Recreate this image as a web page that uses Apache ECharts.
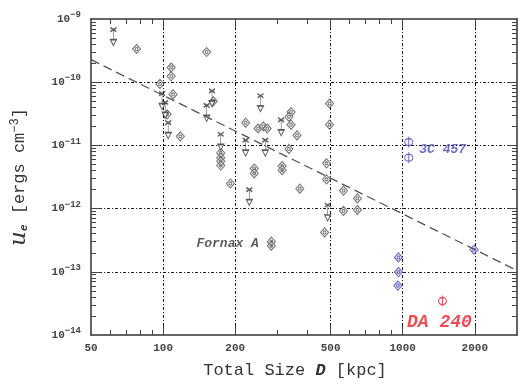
<!DOCTYPE html>
<html>
<head>
<meta charset="utf-8">
<script src="https://cdn.jsdelivr.net/npm/echarts@6/dist/echarts.min.js"></script>
<style>
  html, body { margin: 0; padding: 0; background: #fff; }
  #chart { width: 518px; height: 384px; }
</style>
</head>
<body>
<div id="chart"></div>
<script>
// axis ticks / labels
const xLabelValues = [50, 100, 200, 500, 1000, 2000];
const xMajorTicks = [100, 200, 500, 1000, 2000];
const xMinorTicks = [60, 70, 80, 90, 300, 400, 600, 700, 800, 900];
const yLabelValues = [1e-14, 1e-13, 1e-12, 1e-11, 1e-10, 1e-9];
const yMajorTicks = [1e-13, 1e-12, 1e-11, 1e-10];
const yMinorTicks = [];
for (let e = -14; e < -9; e++) {
  for (let m = 2; m <= 9; m++) yMinorTicks.push(m * Math.pow(10, e));
}

// data: [D kpc, u_e erg cm^-3]
const diamonds = [
  [77.5, 3.35e-10], [152, 3.0e-10], [108, 1.71e-10], [108, 1.24e-10],
  [97, 9.4e-11], [110, 6.4e-11], [104, 3.1e-11], [118, 1.39e-11],
  [162, 5.0e-11], [174, 7.6e-12], [174, 6.4e-12], [174, 5.6e-12],
  [174, 4.8e-12], [191, 2.5e-12], [221, 2.29e-11], [249, 1.85e-11],
  [262, 1.99e-11], [272, 1.85e-11], [342, 3.37e-11], [335, 2.83e-11],
  [342, 2.13e-11], [362, 1.44e-11], [335, 8.8e-12], [240, 4.3e-12],
  [240, 3.6e-12], [314, 4.7e-12], [314, 4.05e-12], [372, 2.07e-12],
  [495, 4.6e-11], [495, 2.13e-11], [481, 5.2e-12], [481, 2.9e-12],
  [566, 1.93e-12], [647, 1.45e-12], [566, 9.2e-13], [647, 9.5e-13],
  [472, 4.2e-13]
];
const fornaxA = [[283, 3.0e-13], [283, 2.58e-13]];
const upperLimits = [
  [62, 6.8e-10], [99, 6.6e-11], [102, 4.8e-11], [105, 2.29e-11],
  [160, 7.3e-11], [152, 4.3e-11], [174, 1.5e-11], [255, 6.1e-11],
  [311, 2.54e-11], [221, 1.21e-11], [267, 1.21e-11], [229, 2.0e-12],
  [486, 1.14e-12]
];
const src3C457 = [[1060, 1.13e-11], [1060, 6.4e-12]];
const blueDiamonds = [[960, 1.69e-13], [960, 9.9e-14], [955, 6.05e-14], [1986, 2.24e-13]];
const da240 = [[1465, 3.44e-14]];
const fitLine = [[50, 2.27e-10], [3000, 1.05e-13]];

const FONT = "Liberation Mono";
const INK = "#333";
const BLUE = "#4646b4";
const RED = "#e8202a";

const DIAMOND = "path://M5 0 L10 5 L5 10 L0 5 Z M5 3.3 A1.7 1.7 0 1 0 5 6.7 A1.7 1.7 0 1 0 5 3.3 Z";
const PHI = "path://M5 0 L5 14 M5 2.5 A4 4.5 0 1 1 5 11.5 A4 4.5 0 1 1 5 2.5 Z";
const LIMIT = "path://M1 0 L11 8 M11 0 L1 8 M6 4 L6 25 M1 24 L11 24 L6 36 Z";

const gridLineStyle = { color: "#111", width: 1, type: [3, 2, 1, 2] };

function xAxis(position, ticks, len, opts) {
  return Object.assign({
    type: "log", logBase: 10, min: 50, max: 3000, position,
    axisLine: { show: false },
    axisTick: { show: true, inside: true, length: len, customValues: ticks, lineStyle: { color: "#444", width: 1 } },
    axisLabel: { show: false },
    splitLine: { show: false }
  }, opts || {});
}
function yAxis(position, ticks, len, opts) {
  return Object.assign({
    type: "log", logBase: 10, min: 1e-14, max: 1e-9, position,
    axisLine: { show: false },
    axisTick: { show: true, inside: true, length: len, customValues: ticks, lineStyle: { color: "#444", width: 1 } },
    axisLabel: { show: false },
    splitLine: { show: false }
  }, opts || {});
}

const chart = echarts.init(document.getElementById("chart"), null, { renderer: "canvas" });
chart.setOption({
  animation: false,
  backgroundColor: "#fff",
  grid: { left: 88, right: 1, top: 19, bottom: 39, containLabel: false },
  xAxis: [
    xAxis("bottom", xMajorTicks, 9, {
      axisLine: { show: true, lineStyle: { color: INK, width: 1.5 } },
      axisLabel: {
        show: true, customValues: xLabelValues, margin: 8,
        fontFamily: FONT, fontWeight: "bold", fontSize: 11, color: "#444",
        formatter: (v) => String(Math.round(v))
      },
      splitLine: { show: true, lineStyle: gridLineStyle },
      name: "Total Size {i|D} [kpc]",
      nameLocation: "middle", nameGap: 27,
      nameTextStyle: {
        fontFamily: FONT, fontSize: 17, color: INK, padding: [0, 18, 0, 0],
        rich: { i: { fontFamily: FONT, fontSize: 17, fontStyle: "italic", fontWeight: "bold", color: INK } }
      }
    }),
    xAxis("bottom", xMinorTicks, 5),
    xAxis("top", xMajorTicks, 9, { axisLine: { show: true, lineStyle: { color: INK, width: 1.5 } } }),
    xAxis("top", xMinorTicks, 5)
  ],
  yAxis: [
    yAxis("left", yMajorTicks, 10, {
      axisLine: { show: true, lineStyle: { color: INK, width: 1.5 } },
      axisLabel: {
        show: true, customValues: yLabelValues, margin: 10,
        fontFamily: FONT, fontWeight: "bold", fontSize: 11, color: "#444",
        formatter: (v) => {
          const e = Math.round(Math.log10(v));
          return "10{s|" + (e < 0 ? "\u2212" : "") + Math.abs(e) + "}";
        },
        rich: { s: { fontFamily: FONT, fontWeight: "bold", fontSize: 9, color: "#444", padding: [0, 0, 8, 0] } }
      },
      splitLine: { show: true, lineStyle: gridLineStyle },
      name: "{u|u}{e|e} [ergs cm{s|\u22123}]",
      nameLocation: "middle", nameGap: 60,
      nameTextStyle: {
        fontFamily: FONT, fontSize: 17, color: INK,
        rich: {
          u: { fontFamily: "DejaVu Serif", fontStyle: "italic", fontSize: 23, color: INK },
          e: { fontFamily: FONT, fontStyle: "italic", fontWeight: "bold", fontSize: 11, color: INK, padding: [9, 0, 0, 0] },
          s: { fontFamily: FONT, fontSize: 12, color: INK, padding: [0, 0, 10, 0] }
        }
      }
    }),
    yAxis("left", yMinorTicks, 5),
    yAxis("right", yMajorTicks, 10, { axisLine: { show: true, lineStyle: { color: INK, width: 1.5 } } }),
    yAxis("right", yMinorTicks, 5)
  ],
  series: [
    {
      type: "line", data: fitLine, xAxisIndex: 0, yAxisIndex: 0,
      symbol: "none", silent: true,
      lineStyle: { color: "#555", width: 1.3, type: [9, 5] }
    },
    {
      type: "scatter", data: diamonds, xAxisIndex: 0, yAxisIndex: 0,
      symbol: DIAMOND, symbolSize: [8, 9],
      itemStyle: { color: "#fff", borderColor: "#555", borderWidth: 1.1 }
    },
    {
      type: "scatter", xAxisIndex: 0, yAxisIndex: 0,
      data: fornaxA.map((d, i) => i === 0 ? {
        value: d,
        label: {
          show: true, position: "left", distance: 8, offset: [0, 2], formatter: "Fornax A",
          fontFamily: FONT, fontStyle: "italic", fontWeight: "bold", fontSize: 13, color: INK
        }
      } : d),
      symbol: DIAMOND, symbolSize: [8, 9],
      itemStyle: { color: "#fff", borderColor: "#555", borderWidth: 1.1 }
    },
    {
      type: "scatter", data: upperLimits, xAxisIndex: 0, yAxisIndex: 0,
      symbol: LIMIT, symbolSize: [6, 18], symbolOffset: [0, 7],
      itemStyle: { color: "#fff", borderColor: "#333", borderWidth: 1 }
    },
    {
      type: "scatter", xAxisIndex: 0, yAxisIndex: 0,
      data: src3C457.map((d, i) => i === 0 ? {
        value: d,
        label: {
          show: true, position: "right", distance: 6, offset: [0, 8], formatter: "3C 457",
          fontFamily: FONT, fontStyle: "italic", fontWeight: "bold", fontSize: 13, color: BLUE
        }
      } : d),
      symbol: PHI, symbolSize: [8, 11],
      itemStyle: { color: "#fff", borderColor: BLUE, borderWidth: 1.2 }
    },
    {
      type: "scatter", data: blueDiamonds, xAxisIndex: 0, yAxisIndex: 0,
      symbol: DIAMOND, symbolSize: [8, 9],
      itemStyle: { color: "#fff", borderColor: BLUE, borderWidth: 1.2 }
    },
    {
      type: "scatter", xAxisIndex: 0, yAxisIndex: 0,
      data: da240.map((d) => ({
        value: d,
        label: {
          show: true, position: "bottom", distance: 6, offset: [-3, 0], formatter: "DA 240",
          fontFamily: FONT, fontStyle: "italic", fontWeight: "bold", fontSize: 18, color: RED
        }
      })),
      symbol: PHI, symbolSize: [8, 11],
      itemStyle: { color: "#fff", borderColor: RED, borderWidth: 1.2 }
    }
  ]
});
</script>
</body>
</html>
